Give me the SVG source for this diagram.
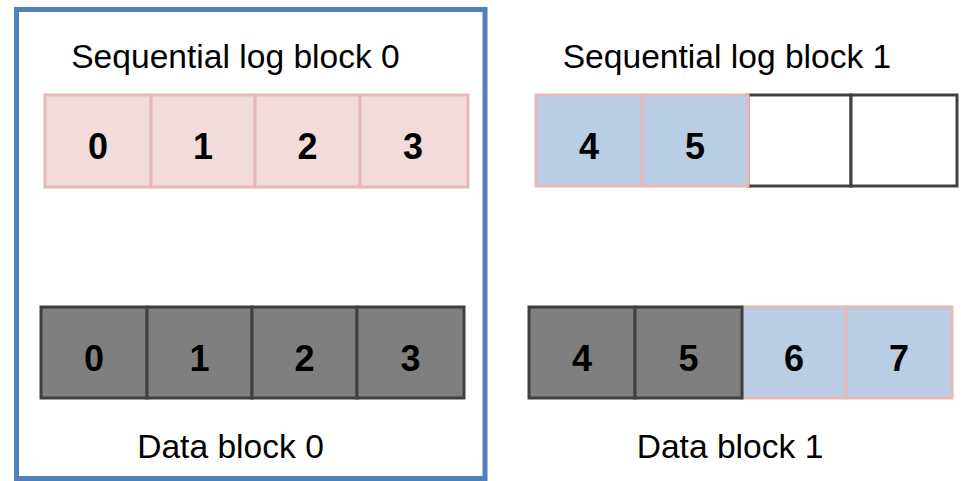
<svg xmlns="http://www.w3.org/2000/svg" width="961" height="481" viewBox="0 0 961 481">
<style>
.lbl{font-family:"Liberation Sans",Arial,sans-serif;font-size:33.6px;fill:#000;text-anchor:middle}
.num{font-family:"Liberation Sans",Arial,sans-serif;font-size:36px;font-weight:bold;fill:#000;text-anchor:middle}
.pink{fill:#f2dcdb;stroke:#e6b9b8;stroke-width:3}
.blue{fill:#b9cde4;stroke:#e6b9b8;stroke-width:3}
.gray{fill:#7f7f7f;stroke:#404040;stroke-width:3}
.empty{fill:#fff;stroke:#404040;stroke-width:3}
</style>
<rect width="961" height="481" fill="#fff"/>
<g id="frame">
<rect x="16.5" y="9.5" width="468.5" height="469" fill="none" stroke="#4f81bd" stroke-width="5"/>
</g>
<g id="log0">
<text class="lbl" x="235.5" y="68">Sequential log block 0</text>
<rect class="pink" x="45" y="95" width="106" height="92"/>
<rect class="pink" x="151" y="95" width="104" height="92"/>
<rect class="pink" x="255" y="95" width="105" height="92"/>
<rect class="pink" x="360" y="95" width="108" height="92"/>
<text class="num" x="98" y="159">0</text>
<text class="num" x="203" y="159">1</text>
<text class="num" x="307.5" y="159">2</text>
<text class="num" x="413" y="159">3</text>
</g>
<g id="log1">
<text class="lbl" x="727" y="68">Sequential log block 1</text>
<rect class="empty" x="748" y="95" width="103" height="91"/>
<rect class="empty" x="851" y="95" width="106" height="91"/>
<rect class="blue" x="536" y="95" width="106" height="91"/>
<rect class="blue" x="642" y="95" width="106" height="91"/>
<text class="num" x="589" y="159">4</text>
<text class="num" x="695" y="159">5</text>
</g>
<g id="data0">
<rect class="gray" x="41" y="307" width="106" height="91"/>
<rect class="gray" x="147" y="307" width="105" height="91"/>
<rect class="gray" x="252" y="307" width="105" height="91"/>
<rect class="gray" x="357" y="307" width="107" height="91"/>
<text class="num" x="94" y="371">0</text>
<text class="num" x="199.5" y="371">1</text>
<text class="num" x="304.5" y="371">2</text>
<text class="num" x="410.5" y="371">3</text>
<text class="lbl" x="230.5" y="458">Data block 0</text>
</g>
<g id="data1">
<rect class="blue" x="742" y="307" width="104" height="91"/>
<rect class="blue" x="846" y="307" width="106" height="91"/>
<rect class="gray" x="529" y="307" width="106" height="91"/>
<rect class="gray" x="635" y="307" width="107" height="91"/>
<text class="num" x="582" y="371">4</text>
<text class="num" x="688.5" y="371">5</text>
<text class="num" x="794" y="371">6</text>
<text class="num" x="899" y="371">7</text>
<text class="lbl" x="730" y="458">Data block 1</text>
</g>
</svg>
